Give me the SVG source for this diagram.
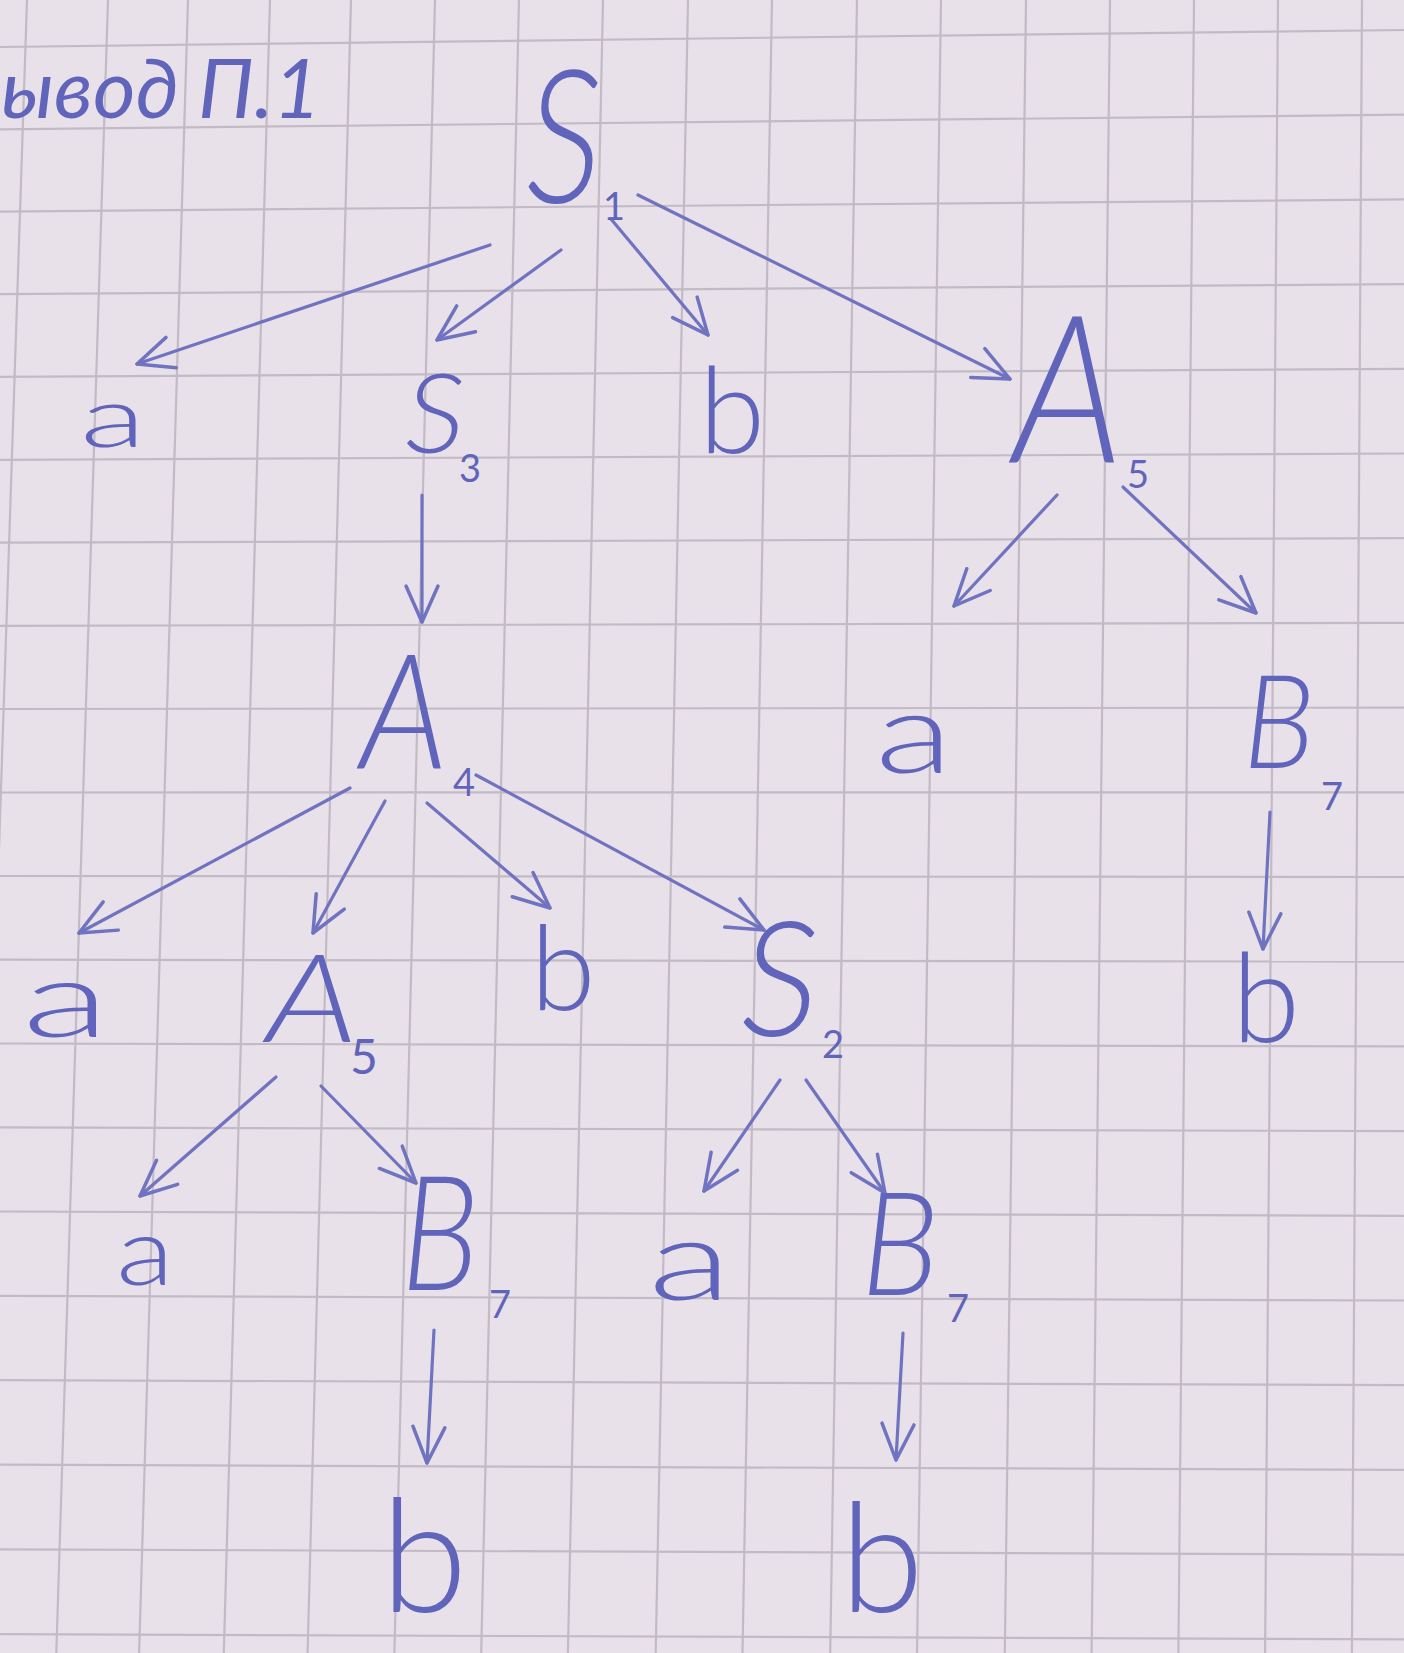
<svg xmlns="http://www.w3.org/2000/svg" width="1404" height="1653" viewBox="0 0 1404 1653">
<defs>
<marker id="ah" markerUnits="userSpaceOnUse" markerWidth="50" markerHeight="50" viewBox="-42 -25 50 50" refX="0" refY="0" orient="auto">
<path d="M -36 -16 L 0 0 L -36 16" fill="none" stroke="#6f73c0" stroke-width="3.5" stroke-linecap="round" stroke-linejoin="round"/>
</marker>
</defs>
<style>
.grid line{stroke:#c2bac5;stroke-width:2.2}
.edge{stroke:#6f73c0;stroke-width:3.2;fill:none;stroke-linecap:round;marker-end:url(#ah)}
.t{font-family:Lato,"Open Sans","Noto Sans",sans-serif;font-weight:300;fill:#6064ba;text-anchor:middle}
.cap{font-style:italic}
.sub{font-size:38px;font-weight:400}
</style>
<rect x="0" y="0" width="1404" height="1653" fill="#e9e1ea"/>
<g class="grid" id="grid">
<line x1="27" y1="0" x2="-27.5" y2="1653"/>
<line x1="108" y1="0" x2="56.3" y2="1653"/>
<line x1="188" y1="0" x2="139.1" y2="1653"/>
<line x1="270" y1="0" x2="223.8" y2="1653"/>
<line x1="351" y1="0" x2="307.6" y2="1653"/>
<line x1="435" y1="0" x2="394.4" y2="1653"/>
<line x1="519" y1="0" x2="481.2" y2="1653"/>
<line x1="603" y1="0" x2="567.9" y2="1653"/>
<line x1="688" y1="0" x2="655.7" y2="1653"/>
<line x1="772" y1="0" x2="742.5" y2="1653"/>
<line x1="857" y1="0" x2="830.2" y2="1653"/>
<line x1="941" y1="0" x2="917" y2="1653"/>
<line x1="1026" y1="0" x2="1004.8" y2="1653"/>
<line x1="1110" y1="0" x2="1091.6" y2="1653"/>
<line x1="1194" y1="0" x2="1178.4" y2="1653"/>
<line x1="1278" y1="0" x2="1265.1" y2="1653"/>
<line x1="1362" y1="0" x2="1351.9" y2="1653"/>
<line x1="0" y1="47" x2="1404" y2="30"/>
<line x1="0" y1="129.3" x2="1404" y2="114.7"/>
<line x1="0" y1="211.7" x2="1404" y2="199.4"/>
<line x1="0" y1="294.2" x2="1404" y2="284.1"/>
<line x1="0" y1="376.9" x2="1404" y2="368.8"/>
<line x1="0" y1="459.8" x2="1404" y2="453.5"/>
<line x1="0" y1="542.7" x2="1404" y2="538.2"/>
<line x1="0" y1="625.8" x2="1404" y2="622.9"/>
<line x1="0" y1="709" x2="1404" y2="707.6"/>
<line x1="0" y1="792.5" x2="1404" y2="792.3"/>
<line x1="0" y1="876" x2="1404" y2="877"/>
<line x1="0" y1="959.7" x2="1404" y2="961.7"/>
<line x1="0" y1="1043.5" x2="1404" y2="1046.4"/>
<line x1="0" y1="1127.4" x2="1404" y2="1131.1"/>
<line x1="0" y1="1211.5" x2="1404" y2="1215.8"/>
<line x1="0" y1="1295.8" x2="1404" y2="1300.5"/>
<line x1="0" y1="1380.1" x2="1404" y2="1385.2"/>
<line x1="0" y1="1464.7" x2="1404" y2="1469.9"/>
<line x1="0" y1="1549.3" x2="1404" y2="1554.6"/>
<line x1="0" y1="1634.1" x2="1404" y2="1639.3"/>
</g>
<g id="title"><text class="t" x="-38" y="118" style="text-anchor:start;font-size:82px;font-style:italic;font-weight:400">вывод П.1</text></g>
<g id="connectors">
<line class="edge" x1="490" y1="245" x2="137" y2="364"/>
<line class="edge" x1="561" y1="250" x2="437" y2="340"/>
<line class="edge" x1="611" y1="219" x2="708" y2="335"/>
<line class="edge" x1="638" y1="195" x2="1010" y2="379"/>
<line class="edge" x1="422" y1="495" x2="422" y2="622"/>
<line class="edge" x1="1057" y1="495" x2="954" y2="606"/>
<line class="edge" x1="1123" y1="487" x2="1256" y2="613"/>
<line class="edge" x1="350" y1="788" x2="79" y2="933"/>
<line class="edge" x1="385" y1="801" x2="313" y2="933"/>
<line class="edge" x1="427" y1="803" x2="550" y2="908"/>
<line class="edge" x1="476" y1="775" x2="764" y2="930"/>
<line class="edge" x1="1270" y1="812" x2="1263" y2="949"/>
<line class="edge" x1="276" y1="1077" x2="140" y2="1196"/>
<line class="edge" x1="321" y1="1086" x2="416" y2="1183"/>
<line class="edge" x1="780" y1="1080" x2="704" y2="1191"/>
<line class="edge" x1="806" y1="1080" x2="885" y2="1193"/>
<line class="edge" x1="434" y1="1330" x2="427" y2="1463"/>
<line class="edge" x1="903" y1="1333" x2="896" y2="1460"/>
</g>
<g id="S1"><text class="t cap" x="564" y="203" font-size="185" textLength="76" lengthAdjust="spacingAndGlyphs">S</text><text class="t sub" x="614" y="220">1</text></g>
<g id="a1"><text class="t" x="113" y="447" font-size="84" textLength="66" lengthAdjust="spacingAndGlyphs">a</text></g>
<g id="S3"><text class="t cap" x="435" y="453" font-size="110" textLength="60" lengthAdjust="spacingAndGlyphs">S</text><text class="t sub" x="470" y="482">3</text></g>
<g id="b1"><text class="t" x="732" y="453" font-size="120">b</text></g>
<g id="A5a"><text class="t cap" x="1068" y="462" font-size="205" textLength="110" lengthAdjust="spacingAndGlyphs">A</text><text class="t sub" x="1138" y="488">5</text></g>
<g id="A4"><text class="t cap" x="404" y="768" font-size="160" textLength="88" lengthAdjust="spacingAndGlyphs">A</text><text class="t sub" x="464" y="796">4</text></g>
<g id="a2"><text class="t" x="914" y="773" font-size="112" textLength="78" lengthAdjust="spacingAndGlyphs">a</text></g>
<g id="B7a"><text class="t cap" x="1279" y="768" font-size="130" textLength="72" lengthAdjust="spacingAndGlyphs">B</text><text class="t sub" x="1332" y="810">7</text></g>
<g id="a3"><text class="t" x="66" y="1037" font-size="106" textLength="88" lengthAdjust="spacingAndGlyphs">a</text></g>
<g id="A5b"><text class="t cap" x="312" y="1042" font-size="123" textLength="92" lengthAdjust="spacingAndGlyphs">A</text><text class="t sub" x="364" y="1074" style="font-size:48px">5</text></g>
<g id="b2"><text class="t" x="563" y="1010" font-size="118">b</text></g>
<g id="S2"><text class="t cap" x="780" y="1036" font-size="160" textLength="78" lengthAdjust="spacingAndGlyphs">S</text><text class="t sub" x="833" y="1058">2</text></g>
<g id="b3"><text class="t" x="1266" y="1042" font-size="124">b</text></g>
<g id="a4"><text class="t" x="145" y="1285" font-size="94" textLength="58" lengthAdjust="spacingAndGlyphs">a</text></g>
<g id="B7b"><text class="t cap" x="440" y="1290" font-size="160" textLength="78" lengthAdjust="spacingAndGlyphs">B</text><text class="t sub" x="500" y="1318">7</text></g>
<g id="a5"><text class="t" x="690" y="1300" font-size="112" textLength="84" lengthAdjust="spacingAndGlyphs">a</text></g>
<g id="B7c"><text class="t cap" x="900" y="1295" font-size="145" textLength="78" lengthAdjust="spacingAndGlyphs">B</text><text class="t sub" x="958" y="1322">7</text></g>
<g id="b4"><text class="t" x="424" y="1612" font-size="158">b</text></g>
<g id="b5"><text class="t" x="882" y="1612" font-size="152">b</text></g>
</svg>
